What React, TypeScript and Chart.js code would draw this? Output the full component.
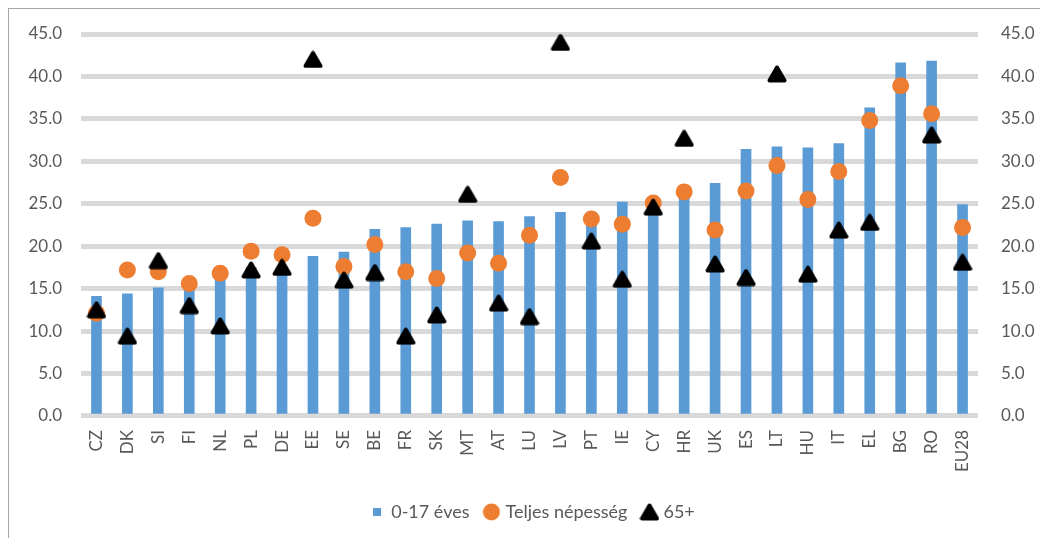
import React, { useEffect, useRef } from 'react';
import { Chart, registerables } from 'chart.js';

Chart.register(...registerables);

const categories = ['CZ', 'DK', 'SI', 'FI', 'NL', 'PL', 'DE', 'EE', 'SE', 'BE', 'FR', 'SK', 'MT', 'AT', 'LU', 'LV', 'PT', 'IE', 'CY', 'HR', 'UK', 'ES', 'LT', 'HU', 'IT', 'EL', 'BG', 'RO', 'EU28'];

const childRate = [14.1, 14.4, 15.1, 15.7, 16.3, 17.5, 17.6, 18.8, 19.3, 22.0, 22.2, 22.6, 23.0, 22.9, 23.5, 24.0, 24.0, 25.2, 25.5, 26.7, 27.4, 31.4, 31.7, 31.6, 32.1, 36.3, 41.6, 41.8, 24.9];

const totalRate = [12.1, 17.2, 17.0, 15.6, 16.8, 19.4, 19.0, 23.3, 17.6, 20.2, 17.0, 16.2, 19.2, 18.0, 21.3, 28.1, 23.2, 22.6, 25.1, 26.4, 21.9, 26.5, 29.5, 25.5, 28.8, 34.8, 38.9, 35.6, 22.2];

const elderlyRate = [12.5, 9.4, 18.3, 13.0, 10.6, 17.2, 17.5, 42.0, 16.0, 16.9, 9.4, 11.9, 26.1, 13.3, 11.7, 44.0, 20.6, 16.1, 24.6, 32.7, 17.9, 16.3, 40.3, 16.7, 21.9, 22.8, null, 33.1, 18.1];

const seriesNames = ['0-17 éves', 'Teljes népesség', '65+'];

const yMin = 0;
const yMax = 45;
const yStep = 5;

const BLUE = '#5b9bd5';
const ORANGE = '#ed7d31';
const BLACK = '#000000';
const TEXT = '#595959';
const GRID = '#d9d9d9';
const FONT = 'Lato, "Liberation Sans", sans-serif';

function makeTriangle(): HTMLCanvasElement {
  const c = document.createElement('canvas');
  c.width = 20;
  c.height = 18;
  const ctx = c.getContext('2d')!;
  ctx.fillStyle = BLACK;
  ctx.strokeStyle = BLACK;
  ctx.lineWidth = 4;
  ctx.lineJoin = 'round';
  ctx.beginPath();
  ctx.moveTo(10, 2.5);
  ctx.lineTo(17.5, 15.5);
  ctx.lineTo(2.5, 15.5);
  ctx.closePath();
  ctx.fill();
  ctx.stroke();
  return c;
}

function makeSquare(): HTMLCanvasElement {
  const c = document.createElement('canvas');
  c.width = 8;
  c.height = 8;
  const ctx = c.getContext('2d')!;
  ctx.fillStyle = BLUE;
  ctx.fillRect(0, 0, 8, 8);
  return c;
}

function makeCircle(): HTMLCanvasElement {
  const c = document.createElement('canvas');
  c.width = 18;
  c.height = 18;
  const ctx = c.getContext('2d')!;
  ctx.fillStyle = ORANGE;
  ctx.beginPath();
  ctx.arc(9, 9, 8.5, 0, Math.PI * 2);
  ctx.fill();
  return c;
}

export default function App() {
  const ref = useRef<HTMLCanvasElement | null>(null);

  useEffect(() => {
    if (!ref.current) return;
    const tri = makeTriangle();
    const legendIcons: Record<number, HTMLCanvasElement> = {
      0: tri,
      1: makeCircle(),
      2: makeSquare(),
    };
    const chart = new Chart(ref.current, {
      type: 'bar',
      data: {
        labels: categories,
        datasets: [
          {
            type: 'line',
            label: seriesNames[2],
            data: elderlyRate,
            showLine: false,
            pointStyle: tri as any,
            pointRadius: 9,
            pointHoverRadius: 9,
            backgroundColor: BLACK,
            borderColor: BLACK,
            yAxisID: 'y',
          } as any,
          {
            type: 'line',
            label: seriesNames[1],
            data: totalRate,
            showLine: false,
            pointStyle: 'circle',
            pointRadius: 8.5,
            pointHoverRadius: 8.5,
            pointBorderWidth: 0,
            backgroundColor: ORANGE,
            borderColor: ORANGE,
            yAxisID: 'y',
          } as any,
          {
            type: 'bar',
            label: seriesNames[0],
            data: childRate,
            backgroundColor: BLUE,
            borderWidth: 0,
            barThickness: 10,
            yAxisID: 'y',
          } as any,
        ],
      },
      options: {
        animation: false,
        responsive: false,
        devicePixelRatio: 1,
        layout: { padding: { left: 18, right: 0, top: 0, bottom: 7 } },
        plugins: {
          tooltip: { enabled: false },
          legend: {
            position: 'bottom',
            reverse: true,
            labels: {
              usePointStyle: true,
              boxWidth: 10,
              boxHeight: 10,
              padding: 17,
              color: TEXT,
              font: { family: FONT, size: 18 },
              generateLabels: (ch: any) => {
                const items = (Chart.defaults.plugins.legend.labels as any).generateLabels(ch);
                return items.map((it: any) => ({ ...it, pointStyle: legendIcons[it.datasetIndex] }));
              },
            },
          },
        },
        scales: {
          x: {
            grid: { display: false, drawTicks: false },
            border: { display: false },
            ticks: {
              color: TEXT,
              font: { family: FONT, size: 17 },
              minRotation: 90,
              maxRotation: 90,
              padding: 14,
              autoSkip: false,
            },
          },
          y: {
            position: 'left',
            min: yMin,
            max: yMax,
            grid: { color: GRID, lineWidth: 5, drawTicks: false },
            border: { display: false },
            ticks: {
              stepSize: yStep,
              color: TEXT,
              font: { family: FONT, size: 17 },
              padding: 19,
              callback: (v: any) => Number(v).toFixed(1),
            },
            afterFit: (s: any) => {
              s.width = 54;
              s.paddingTop = 25;
              s.paddingBottom = 0;
            },
          },
          y1: {
            position: 'right',
            min: yMin,
            max: yMax,
            grid: { display: false, drawTicks: false },
            border: { display: false },
            ticks: {
              stepSize: yStep,
              color: TEXT,
              font: { family: FONT, size: 17 },
              padding: 23,
              callback: (v: any) => Number(v).toFixed(1),
            },
            afterFit: (s: any) => {
              s.width = 62;
              s.paddingTop = 25;
              s.paddingBottom = 0;
            },
          },
        },
      } as any,
    });
    return () => chart.destroy();
  }, []);

  return (
    <div
      style={{
        position: 'absolute',
        left: 8,
        top: 8,
        width: 1032,
        height: 530,
        boxSizing: 'border-box',
        borderLeft: '1px solid #a6a6a6',
        borderTop: '1px solid #a6a6a6',
        background: '#fff',
      }}
    >
      <canvas ref={ref} width={1031} height={529} style={{ display: 'block', width: 1031, height: 529 }} />
    </div>
  );
}
